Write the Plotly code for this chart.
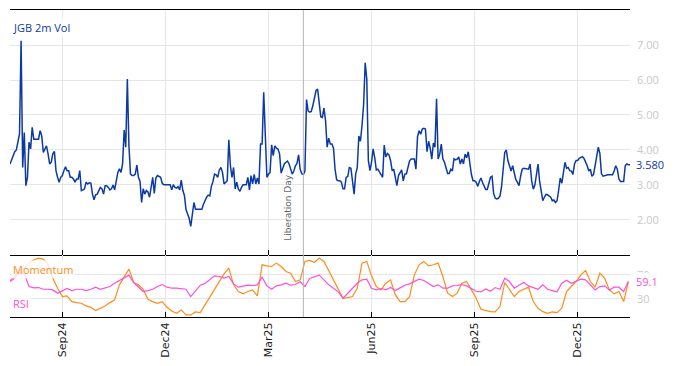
import pandas as pd
import plotly.graph_objects as go
from plotly.subplots import make_subplots

# ---------------- data ----------------
start_date = "2024-07-17"

vol = [
    3.60, 3.72, 3.79, 3.95, 4.00, 4.20, 4.46, 7.12, 3.50, 4.50,
    2.98, 3.22, 4.22, 4.03, 4.65, 4.31, 4.31, 4.31, 4.31, 4.55,
    4.41, 3.93, 4.03, 4.12, 3.89, 3.60, 3.65, 3.89, 3.96, 3.41,
    3.22, 3.08, 3.22, 3.27, 3.41, 3.52, 3.41, 3.41, 3.22, 3.22,
    3.17, 3.08, 3.17, 3.17, 3.41, 2.84, 2.86, 2.89, 3.08, 3.03,
    3.06, 3.05, 2.74, 2.58, 2.72, 2.74, 2.84, 2.93, 2.89, 2.74,
    2.98, 2.98, 2.93, 2.86, 2.89, 3.00, 2.86, 3.12, 3.36, 3.46,
    3.36, 3.60, 4.57, 4.08, 6.03, 4.12, 3.31, 3.27, 3.27, 3.31,
    3.57, 3.22, 3.10, 2.50, 2.89, 2.74, 2.84, 2.80, 2.65, 2.93,
    3.22, 2.76, 3.20, 3.27, 3.24, 3.22, 3.05, 3.01,
    3.01, 3.01, 3.01, 3.01, 2.86, 3.01, 2.93, 2.91, 2.95, 2.86,
    3.14, 2.84, 2.70, 2.30, 2.17, 2.05, 1.82, 2.22, 2.50, 2.31,
    2.31, 2.31, 2.31, 2.31, 2.45, 2.57, 2.65, 2.71, 2.69, 2.96,
    3.10, 3.31, 3.29, 3.22, 3.43, 3.50, 3.36, 3.03, 3.08, 3.12,
    4.29, 3.55, 3.22, 3.50, 2.89, 3.08, 2.89, 2.82, 2.93, 3.01,
    3.01, 3.01, 3.22, 2.86, 3.27, 3.03, 3.30, 3.03, 3.20, 3.03,
    4.17, 4.17, 5.65, 4.55, 3.22, 3.31, 3.36, 4.15, 3.84, 4.12,
    4.05, 4.03, 3.89, 3.34, 3.45, 3.60, 3.65, 3.68, 3.60, 3.41,
    3.31, 3.40, 3.55, 3.62, 3.86, 3.45, 3.32, 3.30, 3.40, 5.44,
    5.12, 5.08, 5.10, 5.27, 5.55, 5.70, 5.74, 5.39, 4.95, 4.93,
    5.20, 4.84, 4.08, 4.34, 4.17, 4.17, 4.05, 3.45, 3.15, 3.12,
    3.12, 3.08, 2.89, 2.89, 3.22, 3.24, 3.50, 3.48, 3.03, 2.74,
    3.31, 3.50, 4.40, 4.25, 4.70, 5.30, 6.49, 6.03, 3.70, 3.41,
    3.65, 4.03, 3.78, 3.43, 3.45, 3.38, 3.30, 3.22, 4.14, 3.80,
    3.90, 3.86, 3.70, 3.41, 3.45, 3.25, 2.98, 3.27, 3.36, 3.43,
    3.12, 3.31, 3.32, 3.50, 3.69, 3.74, 3.75, 3.74, 3.45, 4.38,
    4.55, 4.45, 4.60, 4.62, 4.60, 3.95, 4.25, 4.05, 3.74, 4.20,
    4.08, 5.46, 3.74, 3.88, 4.17, 3.74, 3.65, 3.50, 3.33, 3.33,
    3.45, 3.40, 3.75, 3.72, 3.74, 3.80, 3.60, 3.74, 3.60, 3.88,
    3.78, 3.95, 3.60, 3.30, 3.12, 3.12, 3.08, 2.96, 3.10,
    3.20, 3.07, 2.95, 2.87, 2.87, 3.07, 3.22, 3.25, 2.76, 2.62,
    2.60, 2.62, 2.68, 2.95, 3.40, 3.93, 4.00, 3.70, 3.55, 3.40,
    3.55, 3.36, 3.15, 3.08, 2.98, 3.25, 3.45, 3.48, 3.47, 3.45,
    3.45, 3.60, 3.12, 2.88, 3.00, 3.30, 3.60, 3.10, 2.80, 2.55,
    2.65, 2.73, 2.72, 2.67, 2.65, 2.55, 2.57, 2.50, 2.55, 2.85,
    3.20, 3.05, 3.40, 3.65, 3.48, 3.50, 3.41, 3.40, 3.30, 3.60,
    3.70, 3.70, 3.76, 3.79, 3.81, 3.76, 3.67, 3.55, 3.40, 3.45,
    3.25, 3.30, 3.55, 3.84, 4.08, 3.90, 3.32, 3.25, 3.27, 3.29,
    3.29, 3.29, 3.29, 3.29, 3.40, 3.55, 3.45, 3.17, 3.10, 3.10,
    3.10, 3.55, 3.60, 3.58, 3.58,
]

momentum = [
    60.6, 67.3, 77.3, 81.1, 89.5, 95.0, 97.8, 96.1, 86.7, 64.5,
    47.8, 33.9, 35.0, 25.6, 23.9, 22.8, 18.4, 16.1, 10.6, 14.5,
    18.4, 23.9, 28.4, 53.4, 67.3, 79.5, 57.3, 53.4, 46.1, 29.5,
    25.6, 22.8, 25.6, 16.1, 10.0, 6.1, 11.7, 3.4, 3.4, 8.4,
    7.3, 20.0, 33.9, 45.0, 58.9, 71.7, 81.1, 53.4, 42.3, 38.4,
    42.3, 45.0, 35.0, 86.7, 85.0, 83.9, 89.5, 83.9, 75.6, 72.8,
    58.9, 61.7, 92.3, 93.9, 90.6, 97.8, 92.3, 77.3, 61.7, 47.8,
    31.1, 32.3, 33.9, 47.8, 89.5, 92.3, 68.4, 50.6, 45.0, 56.1,
    61.7, 36.7, 25.6, 25.6, 33.9, 70.0, 86.7, 92.3, 85.0, 86.7,
    89.5, 67.3, 39.5, 33.9, 39.5, 56.1, 58.9, 45.0, 31.1, 12.8,
    10.6, 8.9, 8.4, 17.3, 57.3, 45.0, 33.9, 42.3, 46.1, 49.5,
    25.6, 14.5, 8.9, 6.1, 8.4, 7.3, 14.5, 42.3, 50.6, 58.9,
    70.0, 77.3, 58.9, 49.5, 72.8, 64.5, 45.0, 38.4, 42.3, 25.6,
    58.9,
]

rsi = [
    58.9, 64.5, 73.9, 71.7, 50.6, 48.4, 48.9, 46.1, 46.1, 45.0,
    39.5, 42.8, 47.3, 43.9, 46.1, 46.1, 43.9, 46.1, 49.5, 46.1,
    47.8, 50.6, 56.1, 60.6, 66.1, 69.5, 57.3, 48.9, 42.3, 43.9,
    46.1, 50.6, 53.9, 49.5, 47.8, 47.8, 47.3, 46.1, 33.9, 43.9,
    52.8, 55.6, 62.8, 68.4, 67.3, 64.5, 67.3, 55.0, 49.5, 51.7,
    52.8, 52.3, 53.4, 66.1, 51.7, 46.1, 51.7, 53.4, 56.1, 52.8,
    53.9, 58.4, 50.6, 63.9, 67.3, 69.5, 61.7, 53.4, 47.8, 41.7,
    31.1, 39.5, 49.5, 56.1, 61.7, 62.8, 47.8, 45.0, 47.3, 45.0,
    48.9, 43.9, 48.4, 52.8, 55.0, 58.9, 62.8, 60.6, 55.6, 50.6,
    53.4, 47.8, 47.8, 51.7, 52.3, 53.9, 51.7, 47.8, 42.8, 41.7,
    46.7, 42.8, 48.9, 46.1, 64.5, 58.9, 47.8, 52.8, 57.3, 51.7,
    49.5, 46.1, 53.4, 46.1, 43.9, 41.7, 56.1, 61.1, 56.1, 59.5,
    62.8, 61.7, 53.4, 45.0, 50.6, 51.7, 45.0, 49.5, 49.5, 42.3,
    59.1,
]

tick_dates = ["2024-09-02", "2024-12-02", "2025-03-03", "2025-06-02", "2025-09-01", "2025-12-01"]
tick_labels = ["Sep24", "Dec24", "Mar25", "Jun25", "Sep25", "Dec25"]
vol_ticks = [2, 3, 4, 5, 6, 7]
ind_ticks = [30, 70]
event_date = "2025-04-02"
event_label = "Liberation Day"
title = "JGB 2m Vol"

dates = pd.bdate_range(start=start_date, periods=len(vol))
ind_dates = dates[::3][:len(rsi)]

# ---------------- style ----------------
BLUE = "#0b3aa5"
ORANGE = "#ff8c1a"
PINK = "#ff4fd8"
GRID = "#e6e6e6"
LABEL = "#c8c8c8"
FONT = "Open Sans"

fig = make_subplots(rows=2, cols=1, shared_xaxes=True, vertical_spacing=0,
                    row_heights=[0.798, 0.202])

fig.add_trace(go.Scatter(x=dates, y=vol, mode="lines", line=dict(color=BLUE, width=1.5),
                         showlegend=False), row=1, col=1)
fig.add_trace(go.Scatter(x=ind_dates, y=momentum, mode="lines", line=dict(color=ORANGE, width=1.2),
                         showlegend=False), row=2, col=1)
fig.add_trace(go.Scatter(x=ind_dates, y=rsi, mode="lines", line=dict(color=PINK, width=1.2),
                         showlegend=False), row=2, col=1)

xcommon = dict(type="date", rangebreaks=[dict(bounds=["sat", "mon"])],
               range=[dates[0], dates[-1]], tickvals=tick_dates, ticktext=tick_labels,
               showgrid=True, gridcolor=GRID, gridwidth=1, ticks="inside", ticklen=5,
               tickcolor="#000000", tickwidth=1, showline=True, linecolor="#000000",
               linewidth=1.3, zeroline=False, layer="above traces")
fig.update_xaxes(**xcommon)
fig.update_xaxes(showticklabels=False, mirror=True, row=1, col=1)
fig.update_xaxes(showticklabels=True, tickangle=-90,
                 tickfont=dict(family="DejaVu Sans", size=11, color="#222222"), row=2, col=1)

ycommon = dict(side="right", showgrid=True, gridcolor=GRID, gridwidth=1, zeroline=False,
               showline=False, ticks="", ticklabelstandoff=6,
               tickfont=dict(family=FONT, size=11, color=LABEL))
fig.update_yaxes(range=[1, 8], tickvals=vol_ticks, tickformat=".2f", row=1, col=1, **ycommon)
fig.update_yaxes(range=[0, 103], tickvals=ind_ticks, row=2, col=1, **ycommon)

fig.add_shape(type="line", xref="x", yref="paper", x0=event_date, x1=event_date, y0=0, y1=1,
              line=dict(color="#b4b4b4", width=1))

ann_bg = "rgba(255,255,255,0.8)"
fig.add_annotation(text=title, xref="paper", yref="paper", x=0, y=1, xanchor="left", yanchor="top",
                   xshift=1, yshift=-8, showarrow=False, bgcolor=ann_bg,
                   font=dict(family=FONT, size=11, color=BLUE))
fig.add_annotation(text="Momentum", xref="paper", yref="y2 domain", x=0, y=1, xanchor="left",
                   yanchor="top", xshift=1, yshift=-5, showarrow=False, bgcolor=ann_bg,
                   font=dict(family=FONT, size=11, color=ORANGE))
fig.add_annotation(text="RSI", xref="paper", yref="y2 domain", x=0, y=0, xanchor="left",
                   yanchor="bottom", xshift=1, yshift=4, showarrow=False, bgcolor=ann_bg,
                   font=dict(family=FONT, size=11, color=PINK))
fig.add_annotation(text=f"{vol[-1]:.3f}", xref="paper", yref="y", x=1, y=vol[-1], xanchor="left",
                   xshift=4, showarrow=False, bgcolor=ann_bg,
                   font=dict(family=FONT, size=11, color=BLUE))
fig.add_annotation(text=f"{rsi[-1]:.1f}", xref="paper", yref="y2", x=1, y=rsi[-1], xanchor="left",
                   xshift=4, showarrow=False, bgcolor=ann_bg,
                   font=dict(family=FONT, size=11, color=PINK))
fig.add_annotation(text=event_label, xref="x", yref="y domain", x=event_date, y=0,
                   xanchor="right", yanchor="bottom", xshift=-8, yshift=12, textangle=-90,
                   showarrow=False, font=dict(family="DejaVu Sans", size=9, color="#666666"))

# page body has an 8px default margin; size/margins compensate so the plot lands in place
fig.update_layout(width=666, height=358, margin=dict(l=2, r=44, t=2, b=49, autoexpand=False),
                  plot_bgcolor="white", paper_bgcolor="white",
                  font=dict(family=FONT, size=11))

fig.write_html("out.html")
